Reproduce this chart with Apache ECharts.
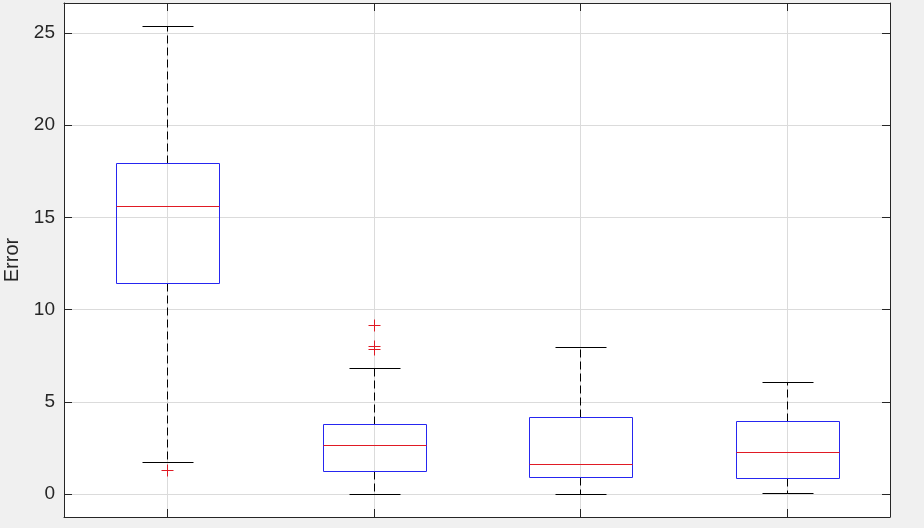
<!DOCTYPE html>
<html>
<head>
<meta charset="utf-8">
<script src="https://cdn.jsdelivr.net/npm/echarts@6/dist/echarts.min.js"></script>
<style>
html,body{margin:0;padding:0;background:#f0f0f0;}
#c{width:924px;height:528px;}
</style>
</head>
<body>
<div id="c"></div>
<script>
// Group positions (x) - no tick labels shown in the reference
const groups = [1, 2, 3, 4];
const lowerWhisker = [1.74, 0.0, 0.0, 0.07];
const q1 = [11.42, 1.23, 0.90, 0.87];
const median = [15.62, 2.66, 1.61, 2.28];
const q3 = [17.97, 3.81, 4.19, 3.96];
const upperWhisker = [25.38, 6.82, 7.95, 6.07];
const outlierGroup = [1, 2, 2, 2];
const outlierValue = [1.28, 9.18, 8.03, 7.85];
const yTitle = 'Error';

const boxData = groups.map((g, i) => [g, lowerWhisker[i], q1[i], median[i], q3[i], upperWhisker[i]]);
const outData = outlierGroup.map((g, i) => [g, outlierValue[i]]);

const FONT = "'Liberation Sans', Arial, Helvetica, sans-serif";
const AX = '#262626';
const GRIDC = '#dbdbdb';
const px = v => Math.round(v) + 0.5;

function renderBox(params, api) {
  const x = api.value(0);
  const lo = api.coord([x, api.value(1)]);
  const a = api.coord([x, api.value(2)]);
  const m = api.coord([x, api.value(3)]);
  const b = api.coord([x, api.value(4)]);
  const hi = api.coord([x, api.value(5)]);
  const bw = api.size([0.5, 0])[0];
  const cw = api.size([0.25, 0])[0];
  const cx = px(m[0]);
  const bl = px(cx - bw / 2), br = px(cx + bw / 2);
  const cl = px(cx - cw / 2), cr = px(cx + cw / 2);
  const dash = { stroke: '#000', lineWidth: 1, lineDash: [8, 4], fill: null };
  const solid = (c) => ({ stroke: c, lineWidth: 1, fill: null });
  return {
    type: 'group',
    children: [
      { type: 'line', shape: { x1: cx, y1: px(b[1]), x2: cx, y2: px(hi[1]) }, style: dash },
      { type: 'line', shape: { x1: cx, y1: px(a[1]), x2: cx, y2: px(lo[1]) }, style: dash },
      { type: 'line', shape: { x1: cl, y1: px(hi[1]), x2: cr, y2: px(hi[1]) }, style: solid('#000') },
      { type: 'line', shape: { x1: cl, y1: px(lo[1]), x2: cr, y2: px(lo[1]) }, style: solid('#000') },
      { type: 'rect', shape: { x: bl, y: px(b[1]), width: br - bl, height: px(a[1]) - px(b[1]) }, style: solid('#2626f0') },
      { type: 'line', shape: { x1: bl, y1: px(m[1]), x2: br, y2: px(m[1]) }, style: solid('#e01a24') }
    ]
  };
}

function renderOut(params, api) {
  const p = api.coord([api.value(0), api.value(1)]);
  const x = px(p[0]), y = px(p[1]), h = 6;
  const st = { stroke: '#e01a24', lineWidth: 1, fill: null };
  return {
    type: 'group',
    children: [
      { type: 'line', shape: { x1: x - h, y1: y, x2: x + h, y2: y }, style: st },
      { type: 'line', shape: { x1: x, y1: y - h, x2: x, y2: y + h }, style: st }
    ]
  };
}

const chart = echarts.init(document.getElementById('c'), null, { renderer: 'canvas' });
const axisCommon = {
  axisLine: { show: true, onZero: false, lineStyle: { color: AX, width: 1 } },
  axisTick: { show: true, inside: true, length: 8, lineStyle: { color: AX } }
};
chart.setOption({
  backgroundColor: '#f0f0f0',
  animation: false,
  grid: { left: 64, right: 34, top: 3, bottom: 11, show: true, backgroundColor: '#ffffff', borderWidth: 0, containLabel: false, outerBoundsMode: 'none' },
  xAxis: [
    Object.assign({
      type: 'value', min: 0.5, max: 4.5, minInterval: 1, maxInterval: 1, position: 'bottom',
      axisLabel: { show: false },
      splitLine: { show: true, lineStyle: { color: GRIDC, width: 1 } }
    }, axisCommon),
    Object.assign({
      type: 'value', min: 0.5, max: 4.5, minInterval: 1, maxInterval: 1, position: 'top',
      axisLabel: { show: false }, splitLine: { show: false }
    }, axisCommon)
  ],
  yAxis: [
    Object.assign({
      type: 'value', min: -1.247, max: 26.63, minInterval: 5, maxInterval: 5, position: 'left',
      name: yTitle, nameLocation: 'middle', nameRotate: 90, nameGap: 40,
      nameTextStyle: { fontFamily: FONT, fontSize: 20, color: AX },
      axisLabel: { show: true, showMinLabel: false, showMaxLabel: false, margin: 9, fontFamily: FONT, fontSize: 19, color: AX },
      splitLine: { show: true, lineStyle: { color: GRIDC, width: 1 } }
    }, axisCommon),
    Object.assign({
      type: 'value', min: -1.247, max: 26.63, minInterval: 5, maxInterval: 5, position: 'right',
      axisLabel: { show: false }, splitLine: { show: false }
    }, axisCommon)
  ],
  series: [
    { type: 'custom', xAxisIndex: 0, yAxisIndex: 0, renderItem: renderBox, data: boxData, z: 3, silent: true },
    { type: 'custom', xAxisIndex: 0, yAxisIndex: 0, renderItem: renderOut, data: outData, z: 4, silent: true }
  ]
});
</script>
</body>
</html>
